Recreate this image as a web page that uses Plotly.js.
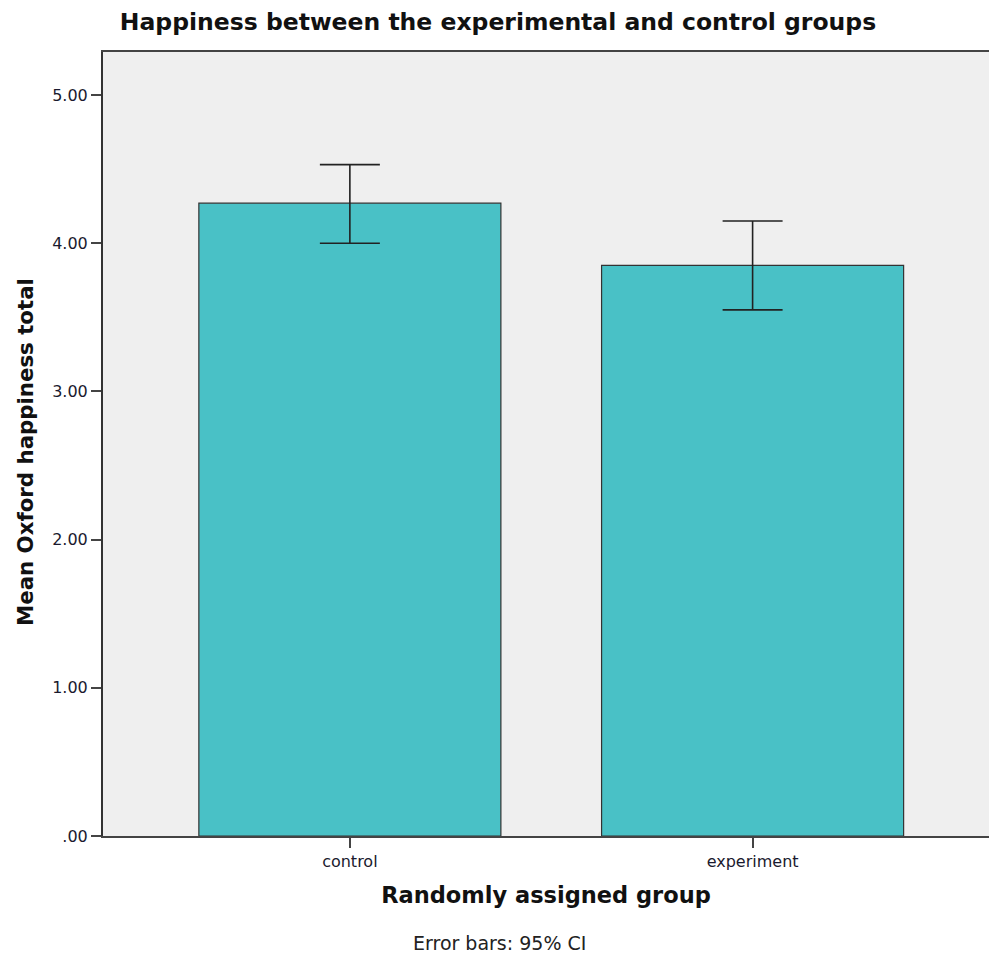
<!DOCTYPE html>
<html>
<head>
<meta charset="utf-8">
<script src="https://cdn.plot.ly/plotly-3.0.1.min.js"></script>
<style>body{margin:0;padding:0;background:#fff;} #chart{width:989px;height:954px;}</style>
</head>
<body>
<div id="chart"></div>
<script>
// Data
const groups = ["control", "experiment"];
const means = [4.27, 3.85];
const ciUpper = [4.53, 4.15];
const ciLower = [4.00, 3.55];
const yTickVals = [0, 1, 2, 3, 4, 5];
const yTickText = [".00", "1.00", "2.00", "3.00", "4.00", "5.00"];

const errPlus = means.map((m, i) => ciUpper[i] - m);
const errMinus = means.map((m, i) => m - ciLower[i]);

const trace = {
  type: "bar",
  x: groups,
  y: means,
  width: 0.75,
  marker: { color: "#49c1c6", line: { color: "#333333", width: 1.2 } },
  error_y: {
    type: "data",
    symmetric: false,
    array: errPlus,
    arrayminus: errMinus,
    color: "#222222",
    thickness: 1.6,
    width: 30
  },
  hoverinfo: "none"
};

const layout = {
  width: 989,
  height: 954,
  margin: { l: 103, r: 0, t: 52, b: 118, pad: 0 },
  paper_bgcolor: "#ffffff",
  plot_bgcolor: "#efefef",
  showlegend: false,
  bargap: 0.25,
  font: { family: "DejaVu Sans, sans-serif", color: "#1a1a2e" },
  title: {
    text: "Happiness between the experimental and control groups",
    font: { family: "DejaVu Sans, sans-serif", size: 23.5, color: "#111111", weight: "bold" },
    x: (498 - 103) / 886, xanchor: "center", xref: "paper",
    y: 0.977, yanchor: "middle", yref: "container"
  },
  xaxis: {
    type: "category",
    range: [-0.613, 1.587],
    showline: true, mirror: true, linecolor: "#444444", linewidth: 2,
    ticks: "outside", ticklen: 10, tickwidth: 2, tickcolor: "#444444",
    tickfont: { size: 16, color: "#1a1a2e" },
    showgrid: false, zeroline: false,
    title: { text: "Randomly assigned group", standoff: 17,
      font: { family: "DejaVu Sans, sans-serif", size: 22.5, color: "#111111", weight: "bold" } }
  },
  yaxis: {
    range: [0, 5.29],
    tickvals: yTickVals, ticktext: yTickText,
    showline: true, mirror: false, linecolor: "#333333", linewidth: 2,
    ticks: "outside", ticklen: 10, tickwidth: 2, tickcolor: "#444444",
    tickfont: { size: 16, color: "#1a1a2e" },
    showgrid: false, zeroline: false,
    title: { text: "" }
  },
  annotations: [{
    text: "Error bars: 95% CI",
    xref: "paper", yref: "paper",
    x: (499 - 103) / 886, y: -(943 - 836) / 784,
    xanchor: "center", yanchor: "middle",
    showarrow: false,
    font: { family: "DejaVu Sans, sans-serif", size: 19, color: "#222222" }
  }, {
    text: "<b>Mean Oxford happiness total</b>",
    xref: "paper", yref: "paper",
    x: (25 - 103) / 886, y: (836 - 452) / 784,
    xanchor: "center", yanchor: "middle",
    textangle: -90,
    showarrow: false,
    font: { family: "DejaVu Sans, sans-serif", size: 21.3, color: "#111111" }
  }]
};

Plotly.newPlot("chart", [trace], layout, { displayModeBar: false, staticPlot: true });
</script>
</body>
</html>
